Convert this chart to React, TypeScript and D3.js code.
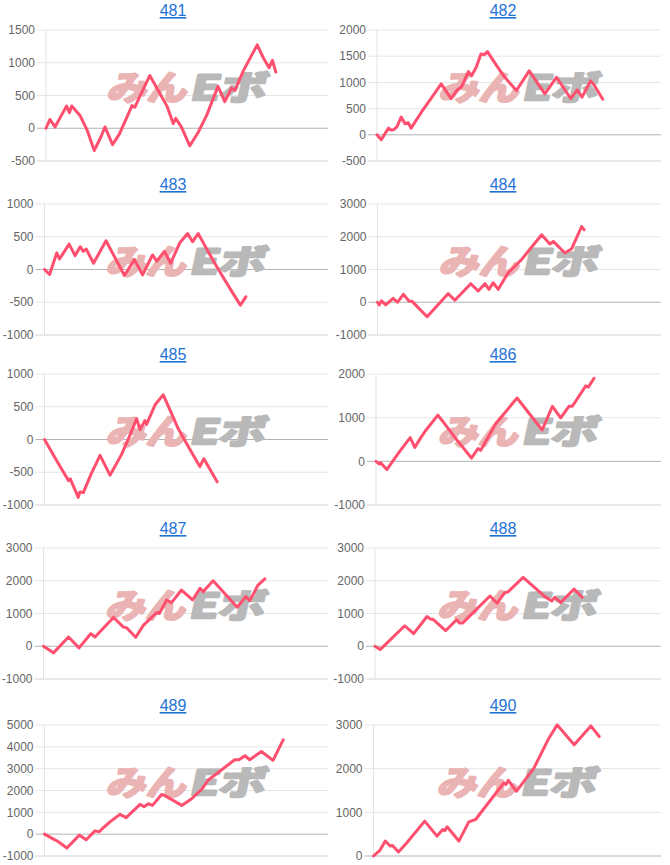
import React from "react";
import * as d3 from "d3";

// ---- data: [x position (% of race slots), cumulative value] ----
const titles = ["481", "482", "483", "484", "485", "486", "487", "488", "489", "490"];

const s481: [number, number][] = [
  [0, 0], [1.4, 134], [3.2, 20], [5.5, 200], [7.3, 340], [8.3, 237], [9.1, 340], [12, 200], [14.5, -20],
  [17.1, -340], [19.5, -130], [20.9, 20], [23.6, -250], [26, -90], [28.5, 150], [30.5, 345], [31.5, 320],
  [33.2, 480], [36.8, 805], [40, 560], [43, 330], [45.1, 72], [46, 150], [48, 20], [51, -268], [54, -60],
  [57, 200], [61, 640], [63.4, 407], [65.8, 613], [67, 577], [70, 880], [74.9, 1273], [77, 1080],
  [79.1, 923], [80.3, 1036], [81.5, 856],
];
const s482: [number, number][] = [
  [0, 0], [1.5, -95], [3, 40], [4.1, 127], [5, 90], [5.8, 95], [7, 150], [8.5, 337], [9.9, 210],
  [11, 230], [12, 127], [15.8, 445], [19, 690], [22.6, 972], [26.1, 692], [28, 840], [29.8, 920],
  [32.2, 1206], [33.3, 1124], [35, 1300], [36.6, 1543], [37.8, 1530], [38.9, 1588], [42, 1330],
  [45, 1098], [49.1, 845], [53.6, 1219], [59.1, 781], [63.2, 1098], [68.2, 692], [70.5, 857],
  [72.2, 718], [75.2, 1029], [76.4, 953], [79.5, 680],
];
const s483: [number, number][] = [
  [0, 0], [1.8, -76], [4.3, 252], [5.3, 161], [8.7, 388], [10.8, 212], [12.6, 348], [13.7, 277],
  [14.7, 312], [17.3, 96], [21.7, 438], [28.2, -91], [31.7, 151], [34.6, -81], [38.1, 222], [39.6, 126],
  [42.3, 277], [44.5, 96], [47.8, 413], [50.5, 549], [52.2, 423], [54.2, 549], [57, 330], [60, 100],
  [63, -120], [66, -330], [69.1, -544], [71, -418],
];
const s484: [number, number][] = [
  [0, 0], [0.6, -80], [1.4, 40], [2.9, -80], [5.5, 121], [7.1, 0], [9.1, 242], [11.1, 40], [12.3, 20],
  [17.5, -444], [24.9, 263], [27.3, 61], [32.9, 566], [35.5, 343], [37.9, 566], [39.3, 394], [40.8, 596],
  [42.6, 394], [46.1, 899], [50.8, 1303], [57.9, 2060], [60.8, 1778], [62, 1858], [66.1, 1505],
  [68.5, 1636], [72, 2313], [72.9, 2212],
];
const s485: [number, number][] = [
  [0, 0], [4, -300], [8.5, -631], [9.1, -600], [11.9, -884], [12.5, -800], [13.7, -810], [16.5, -520],
  [19.6, -242], [23.1, -545], [27.2, -227], [30, 50], [32.5, 318], [33.7, 151], [35.4, 288], [36, 230],
  [39, 530], [41.9, 682], [47, 180], [51, -130], [54.8, -414], [56.2, -293], [60.9, -646],
];
const s486: [number, number][] = [
  [0, 0], [1.2, -60], [1.6, -30], [3.8, -189], [8, 200], [12, 544], [13.6, 317], [15.5, 520], [17.3, 695],
  [21.7, 1057], [22.9, 959], [28, 520], [33.5, 75], [35.8, 294], [36.7, 250], [42, 860], [49.5, 1450],
  [58.3, 717], [61.9, 1261], [64.8, 997], [67.7, 1261], [68.9, 1261], [73.6, 1729], [74.5, 1700],
  [76.5, 1903],
];
const s487: [number, number][] = [
  [0, 0], [3.5, -202], [8.8, 283], [12.5, -50], [16.6, 384], [18.1, 283], [24.6, 879], [28.1, 586],
  [29.3, 560], [32.4, 273], [35.1, 636], [39.8, 1030], [40.7, 1000], [43.3, 1414], [45, 1333],
  [48.5, 1717], [52.4, 1414], [55, 1768], [56.1, 1667], [59.6, 2000], [68.1, 1192], [71.1, 1515],
  [72.5, 1394], [75.4, 1869], [77.8, 2060],
];
const s488: [number, number][] = [
  [0, 0], [1.8, -101], [10.4, 626], [13.5, 384], [18.2, 909], [19.4, 828], [20.2, 828], [24.7, 475],
  [28.5, 808], [29.6, 707], [30.6, 707], [40.2, 1535], [42.7, 1313], [45.3, 1636], [46.5, 1660],
  [51.8, 2101], [59.4, 1515], [61.8, 1384], [62.9, 1495], [64.9, 1333], [69.6, 1747], [72.4, 1495],
];
const s489: [number, number][] = [
  [0, 0], [3.2, -227], [4.9, -348], [7.9, -636], [12.3, -45], [14.7, -258], [17.8, 152], [19.3, 110],
  [20.2, 227], [23.1, 561], [26.6, 909], [28.8, 758], [33.7, 1364], [35.1, 1258], [36.6, 1394],
  [38.1, 1318], [41.3, 1818], [42.8, 1742], [48.4, 1318], [51.9, 1621], [55.4, 2045], [57.7, 2470],
  [67.1, 3409], [68.6, 3409], [70.7, 3591], [72.4, 3409], [76.5, 3788], [80.6, 3379], [84.2, 4318],
];
const s490: [number, number][] = [
  [0, 0], [2.3, 137], [4.1, 342], [5.8, 228], [6.6, 240], [8.7, 91], [11.6, 304], [17.8, 798],
  [22.1, 456], [24.1, 608], [24.8, 580], [25.6, 669], [29.7, 342], [33.1, 775], [34.3, 810], [35.5, 836],
  [45.3, 1672], [46.1, 1640], [46.9, 1733], [49.7, 1482], [55.8, 2014], [61, 2698], [63.9, 3002],
  [69.8, 2546], [75.6, 2979], [78.5, 2736],
];

const seriesList = [s481, s482, s483, s484, s485, s486, s487, s488, s489, s490];
const yMins = [-500, -500, -1000, -1000, -1000, -1000, -1000, -1000, -1000, 0];
const yMaxs = [1500, 2000, 1000, 3000, 1000, 2000, 3000, 3000, 5000, 3000];
const ySteps = [500, 500, 500, 1000, 500, 1000, 1000, 1000, 1000, 1000];

// ---- layout ----
const W = 670;
const H = 865;
const rowTops = [30, 204, 374, 548, 725];
const plotH = 131;
const axisXs = [46, 377, 44.5, 377.5, 44.5, 376, 43.5, 375, 44.5, 373.5];
const rightEdges = [328, 661];
const titleCenters = [173, 503];
const LINE = "#ff4f6f";
const FONT = "'Liberation Sans', Arial, Helvetica, sans-serif";

function Panel({ i }: { i: number }) {
  const col = i % 2;
  const row = Math.floor(i / 2);
  const top = rowTops[row];
  const bottom = top + plotH;
  const left = axisXs[i];
  const right = rightEdges[col];
  const x = d3.scaleLinear().domain([0, 100]).range([left, right]);
  const y = d3.scaleLinear().domain([yMins[i], yMaxs[i]]).range([bottom, top]);
  const ticks = d3.range(yMins[i], yMaxs[i] + 1, ySteps[i]);
  const line = d3
    .line<[number, number]>()
    .x((d) => x(d[0]))
    .y((d) => y(d[1]));
  const wmCx = (left + right) / 2 + 2;
  const wmCy = (top + bottom) / 2 - 9;
  return (
    <g>
      <text
        x={titleCenters[col]}
        y={top - 14}
        textAnchor="middle"
        fontFamily={FONT}
        fontSize={16}
        fill="#1f73d4"
        textDecoration="underline"
        style={{ textDecoration: "underline" }}
      >
        {titles[i]}
      </text>
      {ticks.map((t) => (
        <g key={t}>
          <line
            x1={left - 9}
            x2={right}
            y1={y(t)}
            y2={y(t)}
            stroke={t === 0 ? "#b3b3b3" : t === yMins[i] ? "#d2d2d2" : "#e6e6e6"}
            strokeWidth={1}
          />
          <text
            x={left - 11}
            y={y(t)}
            dy="0.35em"
            textAnchor="end"
            fontFamily={FONT}
            fontSize={12}
            fill="#666"
          >
            {t}
          </text>
        </g>
      ))}
      <line x1={left} x2={left} y1={top} y2={bottom} stroke="#e3e3e3" strokeWidth={1} />
      <g transform={`translate(${wmCx},${wmCy}) skewX(-12)`}>
        <text
          x={-80}
          y={13}
          fontFamily="'Noto Sans CJK JP', sans-serif"
          fontWeight={700}
          fontSize={34}
          fill="#eab4b4"
          stroke="#eab4b4"
          strokeWidth={2.5}
          strokeLinejoin="round"
          textLength={80}
          lengthAdjust="spacingAndGlyphs"
        >
          みん
        </text>
        <text
          x={3}
          y={13}
          fontFamily="'Noto Sans CJK JP', sans-serif"
          fontWeight={700}
          fontSize={34}
          fill="#b9b9b9"
          stroke="#b9b9b9"
          strokeWidth={2.5}
          strokeLinejoin="round"
          textLength={76}
          lengthAdjust="spacingAndGlyphs"
        >
          Eボ
        </text>
      </g>
      <path
        d={line(seriesList[i]) || ""}
        fill="none"
        stroke={LINE}
        strokeWidth={3}
        strokeLinejoin="round"
        strokeLinecap="round"
      />
    </g>
  );
}

export default function App() {
  return (
    <svg
      width={W}
      height={H}
      style={{ position: "absolute", left: 0, top: 0, background: "#fff" }}
    >
      {titles.map((_, i) => (
        <Panel key={i} i={i} />
      ))}
    </svg>
  );
}
